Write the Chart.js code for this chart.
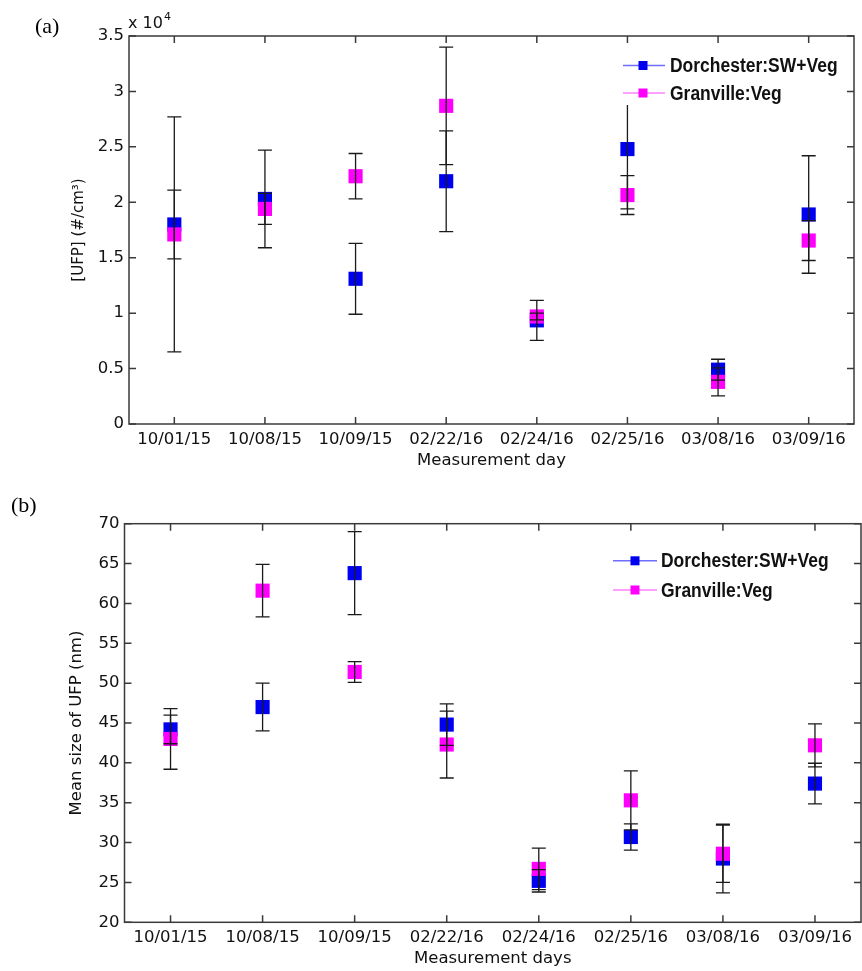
<!DOCTYPE html>
<html><head><meta charset="utf-8">
<script src="https://cdn.jsdelivr.net/npm/chart.js@4/dist/chart.umd.min.js"></script>
<style>
html,body{margin:0;padding:0;background:#fff;width:862px;height:971px;overflow:hidden}
#wa{position:absolute;left:0;top:0;width:862px;height:485px}
#wb{position:absolute;left:0;top:485px;width:862px;height:486px}
</style></head><body>
<div id="wa"><canvas id="ca"></canvas></div>
<div id="wb"><canvas id="cb"></canvas></div>
<script>
// ---- data ----
const days = ['10/01/15','10/08/15','10/09/15','02/22/16','02/24/16','02/25/16','03/08/16','03/09/16'];
const seriesNames = ['Dorchester:SW+Veg','Granville:Veg'];
// panel (a): UFP number concentration, #/cm3
const ufpDorchester    = [18000, 20300, 13100, 21900, 9350, 24800, 4900, 18900];
const ufpDorchesterErr = [3100, 4400, 3200, 4550, 1800, 5400, 940, 5300];
const ufpGranville     = [17100, 19400, 22350, 28700, 9700, 20650, 3800, 16550];
const ufpGranvilleErr  = [10600, 1400, 2050, 5300, 300, 1750, 1270, 1800];
// panel (b): mean UFP size, nm
const sizeDorchester    = [44.2, 47.0, 63.8, 44.8, 25.2, 30.7, 28.0, 37.4];
const sizeDorchesterErr = [1.8, 3.0, 5.2, 2.6, 1.4, 1.65, 4.3, 2.55];
const sizeGranville     = [43.0, 61.6, 51.4, 42.3, 26.7, 35.3, 28.6, 42.2];
const sizeGranvilleErr  = [3.8, 3.3, 1.3, 4.2, 2.6, 3.7, 3.6, 2.7];

// ---- style ----
const BLUE = '#0000f0', MAG = '#ff00ff';
const BLUE_L = '#6f6fff', MAG_L = '#ff80ff';
const AX = '#3a3a3a', TXT = '#111';
const FAM = '"DejaVu Sans", sans-serif';
Chart.defaults.font.family = FAM;
Chart.defaults.font.size = 16.5;
Chart.defaults.color = TXT;

function ds(label, data, err, color, order){
  return {label, data, errors: err, showLine:false, pointStyle:'rect', pointRadius:10, pointHoverRadius:10,
    backgroundColor: color, borderColor: color, pointBorderWidth:0, borderWidth:0, order, clip:false};
}

function framePlugin(cfg){
  return {
    id:'frame'+cfg.tag,
    afterDatasetsDraw(chart){
      const ctx = chart.ctx, x = chart.scales.x, y = chart.scales.y;
      ctx.save();
      // error bars
      ctx.strokeStyle = '#1a1a1a'; ctx.lineWidth = 1.3;
      chart.data.datasets.forEach(d => {
        d.data.forEach((v,i) => {
          const px = x.getPixelForValue(i);
          const y1 = y.getPixelForValue(v + d.errors[i]);
          const y0 = y.getPixelForValue(v - d.errors[i]);
          ctx.beginPath();
          ctx.moveTo(px, y1); ctx.lineTo(px, y0);
          ctx.moveTo(px-7, y1); ctx.lineTo(px+7, y1);
          ctx.moveTo(px-7, y0); ctx.lineTo(px+7, y0);
          ctx.stroke();
        });
      });
      // legend
      const L = cfg.legend;
      ctx.fillStyle = '#fff';
      ctx.fillRect(L.x, L.y, L.w, L.h);
      const cols = [[BLUE_L, BLUE],[MAG_L, MAG]];
      seriesNames.forEach((name, k) => {
        const ry = L.rows[k];
        ctx.strokeStyle = cols[k][0]; ctx.lineWidth = 1.6;
        ctx.beginPath(); ctx.moveTo(L.l0, ry); ctx.lineTo(L.l1, ry); ctx.stroke();
        ctx.fillStyle = cols[k][1];
        ctx.fillRect(L.mx - 4.5, ry - 4.5, 9, 9);
        ctx.save();
        ctx.translate(L.tx, ry);
        ctx.scale(0.92, 1.05);
        ctx.fillStyle = TXT;
        ctx.font = 'bold 19px "Liberation Sans", Arial, sans-serif';
        ctx.textBaseline = 'middle'; ctx.textAlign = 'left';
        ctx.fillText(name, 0, 1);
        ctx.restore();
      });
      ctx.restore();
    },
    afterDraw(chart){
      const ctx = chart.ctx, a = chart.chartArea, x = chart.scales.x, y = chart.scales.y;
      ctx.save();
      ctx.strokeStyle = AX; ctx.lineWidth = 1.5;
      ctx.strokeRect(a.left, a.top, a.right - a.left, a.bottom - a.top);
      ctx.beginPath();
      x.ticks.forEach((t,i) => {
        const px = x.getPixelForTick(i);
        ctx.moveTo(px, a.bottom); ctx.lineTo(px, a.bottom - 7);
        ctx.moveTo(px, a.top); ctx.lineTo(px, a.top + 7);
      });
      y.ticks.forEach((t,i) => {
        const py = y.getPixelForValue(t.value);
        ctx.moveTo(a.left, py); ctx.lineTo(a.left + 7, py);
        ctx.moveTo(a.right, py); ctx.lineTo(a.right - 7, py);
      });
      ctx.stroke();
      // panel label
      ctx.fillStyle = '#000';
      ctx.font = '22px "Liberation Serif", "Times New Roman", serif';
      ctx.textBaseline = 'alphabetic'; ctx.textAlign = 'left';
      ctx.fillText(cfg.panel, cfg.px, cfg.py);
      // multiplier
      if (cfg.mult) {
        ctx.fillStyle = TXT;
        ctx.font = '16px ' + FAM;
        ctx.fillText('x 10', a.left - 1, a.top - 8);
        const w = ctx.measureText('x 10').width;
        ctx.font = '11px ' + FAM;
        ctx.fillText('4', a.left - 1 + w + 1, a.top - 16);
      }
      ctx.restore();
    }
  };
}

function makeChart(id, opts){
  return new Chart(document.getElementById(id), {
    type:'line',
    data:{ labels: days, datasets: opts.datasets },
    options:{
      responsive:true, maintainAspectRatio:false, animation:false,
      layout:{ autoPadding:false, padding:{ left:0, top:opts.padTop, right:opts.padRight, bottom:0 } },
      plugins:{ legend:{display:false}, tooltip:{enabled:false} },
      scales:{
        x:{ type:'category', offset:true,
            grid:{display:false, drawTicks:false}, border:{display:false},
            ticks:{ color:TXT, font:{size:16.5}, padding:6, maxRotation:0, autoSkip:false },
            title:{ display:true, text:opts.xTitle, color:TXT, font:{size:16.5}, padding:{top:0, bottom:opts.xTitlePad} },
            afterFit(s){ s.height = opts.xHeight; s.paddingLeft = 0; s.paddingRight = 0; } },
        y:{ type:'linear', min:opts.yMin, max:opts.yMax,
            grid:{display:false, drawTicks:false}, border:{display:false},
            ticks:{ stepSize:opts.step, color:TXT, font:{size:16.5}, padding:5, callback: opts.tickCb },
            title:{ display:true, text:opts.yTitle, color:TXT, font:{size:opts.yTitleSize}, padding:{top:opts.yTitlePad, bottom:0} },
            afterFit(s){ s.width = opts.yWidth; s.paddingTop = 0; s.paddingBottom = 0; } }
      }
    },
    plugins:[framePlugin(opts.frame)]
  });
}

makeChart('ca', {
  datasets:[ ds(seriesNames[0], ufpDorchester, ufpDorchesterErr, BLUE, 2),
             ds(seriesNames[1], ufpGranville, ufpGranvilleErr, MAG, 1) ],
  padTop:36, padRight:8, xHeight:61, xTitlePad:14, yWidth:129, yTitlePad:70, yTitleSize:15,
  xTitle:'Measurement day', yTitle:'[UFP] (#/cm³)',
  yMin:0, yMax:35000, step:5000, tickCb:(v)=> String(Math.round(v/1000)/10),
  frame:{ tag:'a', panel:'(a)', px:35, py:33, mult:true,
          legend:{ x:617, y:52, w:225, h:53, rows:[65.5, 93], l0:623, l1:665, mx:643, tx:670 } }
});

makeChart('cb', {
  datasets:[ ds(seriesNames[0], sizeDorchester, sizeDorchesterErr, BLUE, 2),
             ds(seriesNames[1], sizeGranville, sizeGranvilleErr, MAG, 1) ],
  padTop:38.7, padRight:1, xHeight:48.7, xTitlePad:2.4, yWidth:124.5, yTitlePad:67, yTitleSize:16.5,
  xTitle:'Measurement days', yTitle:'Mean size of UFP (nm)',
  yMin:20, yMax:70, step:5, tickCb:(v)=> String(v),
  frame:{ tag:'b', panel:'(b)', px:11, py:27, mult:false,
          legend:{ x:612, y:60, w:220, h:57, rows:[75.8, 105], l0:613, l1:657, mx:635, tx:661 } }
});
</script>
</body></html>
